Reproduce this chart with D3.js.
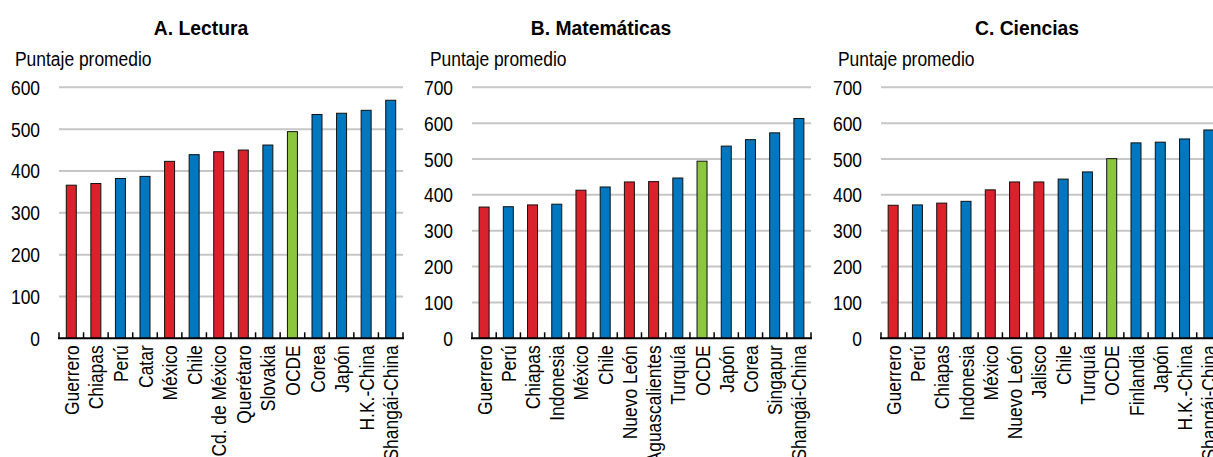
<!DOCTYPE html>
<html>
<head>
<meta charset="utf-8">
<script src="https://cdn.jsdelivr.net/npm/d3@7"></script>
<style>
  body { margin: 0; background: #fff; }
  svg { display: block; font-family: "Liberation Sans", Arial, sans-serif; }
</style>
</head>
<body>
<svg></svg>
<script>
const width = 1213
const height = 457

// A. Lectura
const catsA = ['Guerrero', 'Chiapas', 'Perú', 'Catar', 'México', 'Chile', 'Cd. de México',
  'Querétaro', 'Slovakia', 'OCDE', 'Corea', 'Japón', 'H.K.-China', 'Shangái-China']
const valsA = [366, 370, 382, 387, 423, 439, 446, 450, 462, 494, 535, 538, 545, 569]
const typeA = ['mx', 'mx', 'w', 'w', 'mx', 'w', 'mx', 'mx', 'w', 'oecd', 'w', 'w', 'w', 'w']

// B. Matemáticas
const catsB = ['Guerrero', 'Perú', 'Chiapas', 'Indonesia', 'México', 'Chile', 'Nuevo León',
  'Aguascalientes', 'Turquía', 'OCDE', 'Japón', 'Corea', 'Singapur', 'Shangái-China']
const valsB = [366, 367, 372, 374, 413, 422, 436, 437, 447, 494, 536, 554, 573, 613]
const typeB = ['mx', 'w', 'mx', 'w', 'mx', 'w', 'mx', 'mx', 'w', 'oecd', 'w', 'w', 'w', 'w']

// C. Ciencias
const catsC = ['Guerrero', 'Perú', 'Chiapas', 'Indonesia', 'México', 'Nuevo León', 'Jalisco',
  'Chile', 'Turquía', 'OCDE', 'Finlandia', 'Japón', 'H.K.-China', 'Shangái-China']
const valsC = [371, 372, 377, 382, 414, 436, 436, 444, 464, 501, 545, 547, 556, 581]
const typeC = ['mx', 'w', 'mx', 'w', 'mx', 'mx', 'mx', 'w', 'w', 'oecd', 'w', 'w', 'w', 'w']

const titles = ['A. Lectura', 'B. Matemáticas', 'C. Ciencias']
const yTicksA = [0, 100, 200, 300, 400, 500, 600]
const yTicksBC = [0, 100, 200, 300, 400, 500, 600, 700]
const yLabel = 'Puntaje promedio'

const colors = { mx: '#d9222b', w: '#0077be', oecd: '#8cc63f' }

const panels = [
  { cats: catsA, vals: valsA, types: typeA, ticks: yTicksA, x0: 59, x1: 403, titleX: 201, labX: 15 },
  { cats: catsB, vals: valsB, types: typeB, ticks: yTicksBC, x0: 472, x1: 811, titleX: 601, labX: 430 },
  { cats: catsC, vals: valsC, types: typeC, ticks: yTicksBC, x0: 881, x1: 1221, titleX: 1027, labX: 838 }
]

const yTop = 87.3
const yBase = 338.3
const narrow = 0.83

const svg = d3.select('svg')
  .attr('width', width)
  .attr('height', height)

panels.forEach(function (p, i) {
  const g = svg.append('g')

  const x = d3.scaleBand()
    .domain(p.cats)
    .range([p.x0, p.x1])
    .padding(0)

  const y = d3.scaleLinear()
    .domain([0, d3.max(p.ticks)])
    .range([yBase, yTop])

  // title
  g.append('text')
    .attr('transform', 'translate(' + p.titleX + ',35) scale(0.92,1)')
    .attr('text-anchor', 'middle')
    .attr('font-weight', 'bold')
    .attr('font-size', 21)
    .attr('fill', '#000')
    .text(titles[i])

  g.append('text')
    .attr('transform', 'translate(' + p.labX + ',66) scale(' + narrow + ',1)')
    .attr('font-size', 21)
    .attr('fill', '#000')
    .text(yLabel)

  // gridlines
  g.selectAll('line.grid')
    .data(p.ticks.filter(function (d) { return d > 0 }))
    .enter()
    .append('line')
    .attr('class', 'grid')
    .attr('x1', p.x0)
    .attr('x2', p.x1)
    .attr('y1', function (d) { return y(d) })
    .attr('y2', function (d) { return y(d) })
    .attr('stroke', '#c6c6c6')
    .attr('stroke-width', 2)

  // y tick labels
  g.selectAll('text.ytick')
    .data(p.ticks)
    .enter()
    .append('text')
    .attr('class', 'ytick')
    .attr('transform', function (d) {
      return 'translate(' + (p.x0 - 19) + ',' + (y(d) + 7.5) + ') scale(' + narrow + ',1)'
    })
    .attr('text-anchor', 'end')
    .attr('font-size', 21)
    .attr('fill', '#000')
    .text(function (d) { return d })

  // bars
  g.selectAll('rect')
    .data(p.vals)
    .enter()
    .append('rect')
    .attr('x', function (d, j) { return x(p.cats[j]) + x.bandwidth() / 2 - 5 })
    .attr('width', 10)
    .attr('y', function (d) { return y(d) })
    .attr('height', function (d) { return yBase - y(d) })
    .attr('fill', function (d, j) { return colors[p.types[j]] })
    .attr('stroke', '#111')
    .attr('stroke-width', 1)

  // x axis with inward ticks at the category boundaries
  const bounds = p.cats.map(function (c) { return x(c) }).concat([p.x1])
  g.append('line')
    .attr('x1', p.x0 - 1)
    .attr('x2', p.x1 + 1)
    .attr('y1', yBase)
    .attr('y2', yBase)
    .attr('stroke', '#000')
    .attr('stroke-width', 2)
  g.selectAll('line.tick')
    .data(bounds)
    .enter()
    .append('line')
    .attr('class', 'tick')
    .attr('x1', function (d) { return d })
    .attr('x2', function (d) { return d })
    .attr('y1', yBase)
    .attr('y2', yBase - 6)
    .attr('stroke', '#000')
    .attr('stroke-width', 1.5)

  // category labels
  g.selectAll('text.cat')
    .data(p.cats)
    .enter()
    .append('text')
    .attr('class', 'cat')
    .attr('transform', function (d) {
      return 'translate(' + (x(d) + x.bandwidth() / 2 + 7.5) + ',' + (yBase + 7) + ') rotate(-90) scale(' + narrow + ',1)'
    })
    .attr('text-anchor', 'end')
    .attr('font-size', 21)
    .attr('fill', '#000')
    .text(function (d) { return d })
})
</script>
</body>
</html>
